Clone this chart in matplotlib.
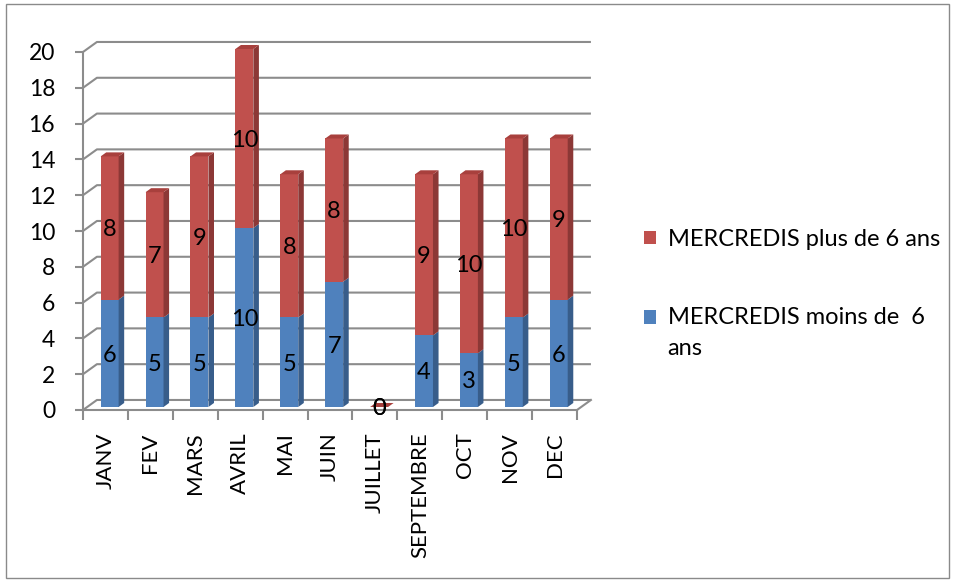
import matplotlib.pyplot as plt
from matplotlib.patches import Polygon, Patch, Rectangle
from matplotlib.legend_handler import HandlerPatch

plt.rcParams['font.family'] = ['Lato', 'DejaVu Sans']

months = ['JANV', 'FEV', 'MARS', 'AVRIL', 'MAI', 'JUIN', 'JUILLET',
          'SEPTEMBRE', 'OCT', 'NOV', 'DEC']
moins6 = [6, 5, 5, 10, 5, 7, 0, 4, 3, 5, 6]
plus6 = [8, 7, 9, 10, 8, 8, 0, 9, 10, 10, 9]
yticks = list(range(0, 21, 2))

# pseudo-3d geometry (data units)
DX, DY = 0.31, 0.56      # depth of the floor
BW = 0.40                # bar front width
BD = 0.40                # bar depth as a share of floor depth
OFF = 0.30               # how far the bar sits behind the front plane

grid_c = '#8c8c8c'
blue, blue_side, blue_top = '#4F81BD', '#385D8A', '#4672A8'
red, red_side, red_top = '#C0504D', '#8C3836', '#A8403D'

fig = plt.figure(figsize=(9.55, 5.83), dpi=100)
fig.patches.append(Rectangle((0.006, 0.008), 0.988, 0.985, transform=fig.transFigure,
                             fill=False, ec='#8a8a8a', lw=1))
ax = fig.add_axes([83 / 955, 173 / 583, 494 / 955, 358 / 583])
n = len(months)
x0, x1 = -0.5, n - 0.5
ax.set_xlim(x0, x1)
ax.set_ylim(0, 20)

# back wall gridlines with their side wall diagonals
for v in yticks:
    ax.plot([x0, x0 + DX, x1 + DX], [v, v + DY, v + DY], color=grid_c, lw=1.5,
            clip_on=False, zorder=1, solid_capstyle='butt')
ax.plot([x1, x1 + DX], [0, DY], color=grid_c, lw=1.5, clip_on=False, zorder=1)


def block(xc, y0, y1, front, side, top, draw_top):
    xl = xc - BW / 2 + OFF * DX
    xr = xl + BW
    b0 = y0 + OFF * DY
    b1 = y1 + OFF * DY
    ddx, ddy = BD * DX, BD * DY
    ax.add_patch(Polygon([(xl, b0), (xr, b0), (xr, b1), (xl, b1)],
                         fc=front, ec='none', zorder=3, clip_on=False))
    ax.add_patch(Polygon([(xr, b0), (xr + ddx, b0 + ddy), (xr + ddx, b1 + ddy), (xr, b1)],
                         fc=side, ec='none', zorder=3, clip_on=False))
    if draw_top:
        ax.add_patch(Polygon([(xl, b1), (xr, b1), (xr + ddx, b1 + ddy), (xl + ddx, b1 + ddy)],
                             fc=top, ec='none', zorder=3, clip_on=False))
    return (xl + xr) / 2, (b0 + b1) / 2


for i in range(n):
    lo, hi = moins6[i], plus6[i]
    cx, cy = block(i, 0, lo, blue, blue_side, blue_top, False)
    ax.text(cx, cy - 0.1, str(lo), ha='center', va='center', fontsize=17, zorder=5)
    cx, cy = block(i, lo, lo + hi, red, red_side, red_top, True)
    ax.text(cx, cy - 0.1, str(hi), ha='center', va='center', fontsize=17, zorder=5)

for s in ['top', 'right']:
    ax.spines[s].set_visible(False)
for s in ['left', 'bottom']:
    ax.spines[s].set_color(grid_c)
    ax.spines[s].set_linewidth(1.5)
    ax.spines[s].set_zorder(2)

ax.set_yticks(yticks)
ax.tick_params(axis='y', length=6, width=1.5, color=grid_c, pad=14, labelsize=16.5)
ax.set_xticks(range(n))
ax.set_xticklabels(months, rotation=90)
ax.set_xticks([k - 0.5 for k in range(n + 1)], minor=True)
ax.tick_params(axis='x', which='major', length=0, pad=16, labelsize=16)
ax.tick_params(axis='x', which='minor', length=7, width=1.5, color=grid_c)


# legend key that sits on the first line of a two-line label
def first_line_patch(legend, orig_handle, xdescent, ydescent, width, height, fontsize):
    return Rectangle((-xdescent, -ydescent + 0.68 * fontsize), width, height)


handles = [Patch(fc=red, ec='none'), Patch(fc=blue, ec='none')]
leg = fig.legend(handles, ['MERCREDIS plus de 6 ans', 'MERCREDIS moins de  6\nans'],
                 loc='upper left', bbox_to_anchor=(644 / 955, 1 - 229 / 583),
                 frameon=False, fontsize=17, handlelength=0.5, handleheight=0.5,
                 handletextpad=0.5, labelspacing=2.4, borderpad=0, borderaxespad=0,
                 handler_map={handles[1]: HandlerPatch(patch_func=first_line_patch)})
for t in leg.get_texts():
    t.set_linespacing(1.6)

fig.savefig('out.png', dpi=100)
